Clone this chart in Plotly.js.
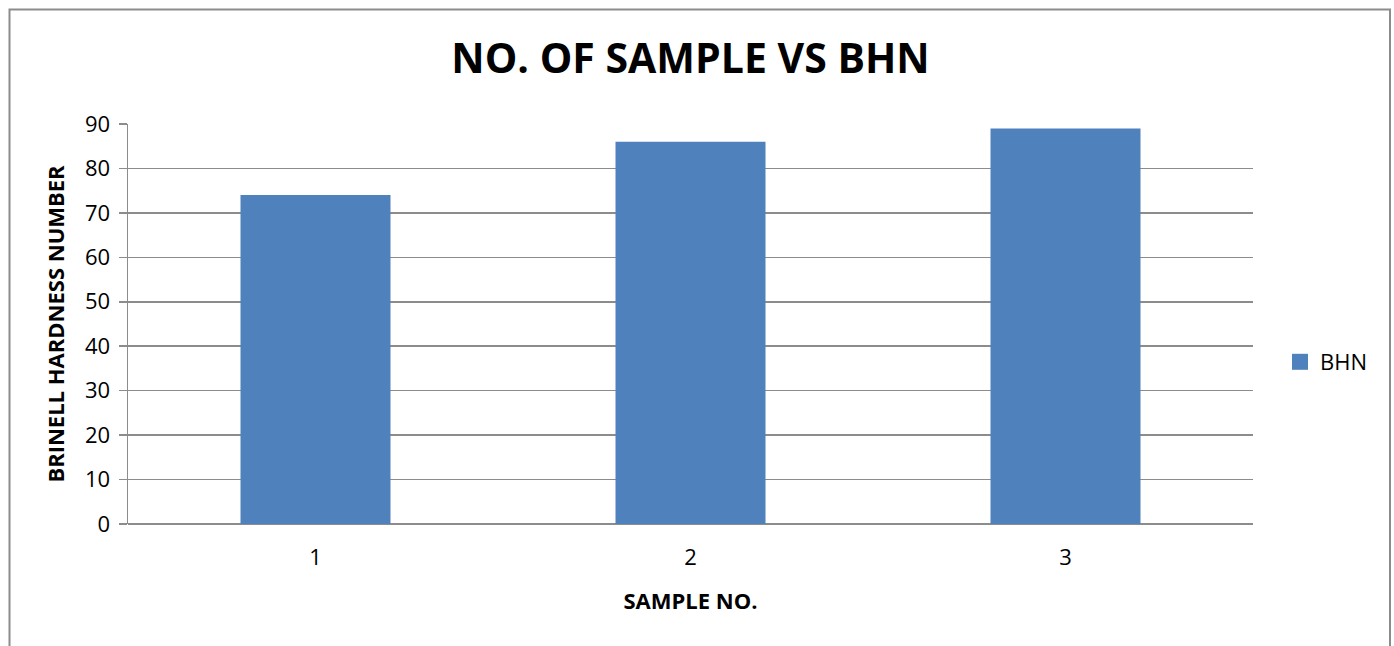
<!DOCTYPE html>
<html><head><meta charset="utf-8">
<script src="https://cdn.plot.ly/plotly-3.0.1.min.js"></script>
<style>html,body{margin:0;padding:0;background:#fff}#chart{width:1394px;height:646px}</style>
</head><body><div id="chart"></div>
<script>
var categories = ["1", "2", "3"];
var bhn = [74, 86, 89];
var seriesName = "BHN";
var yTicks = [0, 10, 20, 30, 40, 50, 60, 70, 80, 90];

var L = 128, R = 1253, T = 124, B = 524, W = 1394, H = 646;
function px(x){ return (x - L) / (R - L); }
function py(y){ return (B - y) / (B - T); }

var font = "Open Sans, Liberation Sans, sans-serif";
var barColor = "#4F81BD";
var data = [{
  type: "bar", x: categories, y: bhn, name: seriesName,
  marker: {color: barColor}, showlegend: false
}, {
  type: "scatter", mode: "markers", x: [null], y: [null], name: seriesName,
  marker: {color: barColor, symbol: "square", size: 17}, showlegend: true, hoverinfo: "skip"
}];
var layout = {
  width: W, height: H,
  margin: {l: L, r: W - R, t: T, b: H - B, pad: 0},
  paper_bgcolor: "#fff", plot_bgcolor: "#fff",
  font: {family: font, color: "#000"},
  title: {text: "<b>NO. OF SAMPLE VS BHN</b>", font: {size: 41, family: font, color: "#000"},
    x: 0.5, xref: "paper", y: 1 - 59/H, yanchor: "middle"},
  bargap: 0.6,
  xaxis: {type: "category", showgrid: false, showline: false, ticks: "",
    tickfont: {size: 22}, ticklabelstandoff: 18,
    title: {text: "<b>SAMPLE NO.</b>", font: {size: 22}, standoff: 23}},
  yaxis: {range: [0, 90], tickvals: yTicks, showgrid: true, gridcolor: "#8c8c8c", gridwidth: 1.5,
    showline: true, linecolor: "#8c8c8c", linewidth: 1.5, ticks: "outside", ticklen: 8,
    tickcolor: "#8c8c8c", tickwidth: 1.5, tickfont: {size: 22}, ticklabelstandoff: 4,
    zeroline: true, zerolinecolor: "#8c8c8c", zerolinewidth: 2,
    title: {text: "<b>BRINELL HARDNESS NUMBER</b>", font: {size: 22}, standoff: 14}},
  legend: {x: px(1280), xanchor: "left", y: py(362), yanchor: "middle",
    font: {size: 22}, bgcolor: "rgba(0,0,0,0)", itemwidth: 30},
  shapes: [{type: "rect", xref: "paper", yref: "paper",
    x0: px(9.5), x1: px(1390), y0: py(700), y1: py(9.5),
    line: {color: "#8c8c8c", width: 2}, fillcolor: "rgba(0,0,0,0)", layer: "below"}]
};
Plotly.newPlot("chart", data, layout, {displayModeBar: false, staticPlot: true});
</script></body></html>
